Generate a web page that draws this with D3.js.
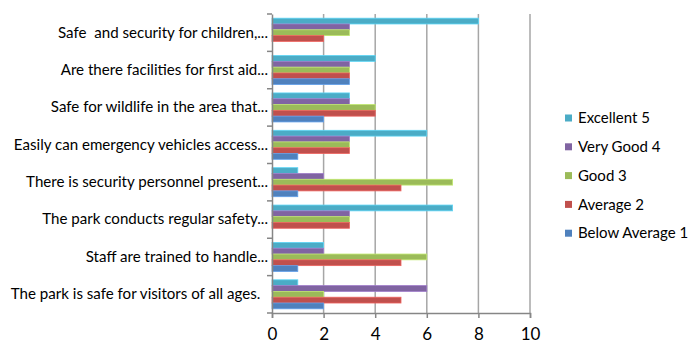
<!DOCTYPE html>
<html>
<head>
<meta charset="utf-8">
<script src="https://cdn.jsdelivr.net/npm/d3@7"></script>
<style>
  body { margin: 0; background: #fff; }
  svg { display: block; font-family: Lato, "Open Sans", sans-serif; }
  svg text { white-space: pre; }
</style>
</head>
<body>
<div id="chart"></div>
<script>
// --- Data ---
const questions = [
  "Safe  and security for children,...",
  "Are there facilities for first aid...",
  "Safe for wildlife in the area that...",
  "Easily can emergency vehicles access...",
  "There is security personnel present...",
  "The park conducts regular safety...",
  "Staff are trained to handle...",
  "The park is safe for visitors of all ages.  "
];
const ratings = ["Excellent 5", "Very Good 4", "Good 3", "Average 2", "Below Average 1"];
const excellent    = [8, 4, 3, 6, 1, 7, 2, 1];
const veryGood     = [3, 3, 3, 3, 2, 3, 2, 6];
const good         = [3, 3, 4, 3, 7, 3, 6, 2];
const average      = [2, 3, 4, 3, 5, 3, 5, 5];
const belowAverage = [0, 3, 2, 1, 1, 0, 1, 2];
const xTicks = [0, 2, 4, 6, 8, 10];
const colors = ["#4bacc6", "#8064a2", "#9bbb59", "#c0504d", "#4f81bd"];

const seriesValues = [excellent, veryGood, good, average, belowAverage];
const rows = questions.map((q, i) => ({
  q,
  values: ratings.map((r, j) => ({ r, v: seriesValues[j][i], c: colors[j] }))
}));

// --- Dimensions ---
const width = 700, height = 352;
const margin = { top: 14, right: 170, bottom: 39, left: 272 };

const svg = d3.select("#chart").append("svg")
  .attr("width", width).attr("height", height);

const x = d3.scaleLinear().domain([0, 10]).range([margin.left, width - margin.right]);
const y = d3.scaleBand().domain(questions).range([margin.top, height - margin.bottom]).padding(0);
const ySub = d3.scaleBand().domain(ratings).range([0, y.bandwidth()]).paddingInner(0).paddingOuter(0.72);

// gridlines
svg.append("g")
  .selectAll("line")
  .data(xTicks.slice(1))
  .join("line")
  .attr("x1", d => x(d)).attr("x2", d => x(d))
  .attr("y1", margin.top).attr("y2", height - margin.bottom)
  .attr("stroke", "#a6a6a6").attr("stroke-width", 1.5);

// bars
const groups = svg.append("g")
  .selectAll("g")
  .data(rows)
  .join("g")
  .attr("transform", d => `translate(0,${y(d.q)})`);

groups.selectAll("rect")
  .data(d => d.values.filter(v => v.v > 0))
  .join("rect")
  .attr("x", x(0))
  .attr("y", d => ySub(d.r))
  .attr("width", d => x(d.v) - x(0))
  .attr("height", ySub.bandwidth())
  .attr("fill", d => d.c)
  .attr("stroke", d => d3.color(d.c).brighter(0.6))
  .attr("stroke-width", 0.8);

// y axis
const yAxis = d3.axisLeft(y).tickSize(0).tickPadding(4);
const gy = svg.append("g").attr("transform", `translate(${x(0)},0)`).call(yAxis);
gy.select(".domain").attr("stroke", "#868686").attr("stroke-width", 1.5);
gy.selectAll("text").attr("font-size", 15.1).attr("fill", "#000").attr("font-family", "Lato, sans-serif");
// category boundary ticks
const bounds = questions.map(q => y(q)).concat([height - margin.bottom]);
svg.append("g").selectAll("line").data(bounds).join("line")
  .attr("x1", x(0) - 5).attr("x2", x(0))
  .attr("y1", d => d).attr("y2", d => d)
  .attr("stroke", "#868686").attr("stroke-width", 1.5);

// x axis
const xAxis = d3.axisBottom(x).tickValues(xTicks).tickSize(5).tickPadding(10);
const gx = svg.append("g").attr("transform", `translate(0,${height - margin.bottom})`).call(xAxis);
gx.select(".domain").attr("stroke", "#868686").attr("stroke-width", 1.5);
gx.selectAll(".tick line").attr("stroke", "#868686").attr("stroke-width", 1.5);
gx.selectAll("text").attr("font-size", 17).attr("fill", "#000").attr("font-family", "Lato, sans-serif");

// legend
const legend = svg.append("g").attr("transform", "translate(565,118)");
const items = legend.selectAll("g").data(ratings).join("g")
  .attr("transform", (d, i) => `translate(0,${i * 28.8})`);
items.append("rect")
  .attr("x", 0).attr("y", -3.5).attr("width", 7).attr("height", 7)
  .attr("fill", (d, i) => colors[i]);
items.append("text")
  .attr("x", 13).attr("y", 0).attr("dy", "0.35em")
  .attr("font-size", 15).attr("fill", "#000")
  .text(d => d);
</script>
</body>
</html>
